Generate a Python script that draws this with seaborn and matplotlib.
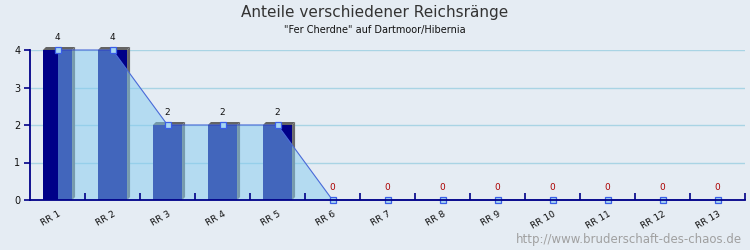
import matplotlib
matplotlib.use("Agg")
import matplotlib.pyplot as plt
import seaborn as sns
import pandas as pd
import numpy as np
from matplotlib.patches import Polygon

categories = ["RR 1", "RR 2", "RR 3", "RR 4", "RR 5", "RR 6", "RR 7",
              "RR 8", "RR 9", "RR 10", "RR 11", "RR 12", "RR 13"]
counts = [4, 4, 2, 2, 2, 0, 0, 0, 0, 0, 0, 0, 0]
y_ticks = [0, 1, 2, 3, 4]

title = "Anteile verschiedener Reichsränge"
subtitle = '"Fer Cherdne" auf Dartmoor/Hibernia'
watermark = "http://www.bruderschaft-des-chaos.de"

bg = "#e5ecf3"
navy = "#000088"
sns.set_theme(style="white")
plt.rcParams["font.family"] = ["DejaVu Sans"]

df = pd.DataFrame({"cat": categories, "val": counts})

fig = plt.figure(figsize=(7.5, 2.5), dpi=100, facecolor=bg)
ax = fig.add_axes([30 / 750, 50 / 250, 715 / 750, 150 / 250])
ax.set_facecolor(bg)

sns.barplot(data=df, x="cat", y="val", color=navy, saturation=1,
            width=0.53, ax=ax, zorder=2, edgecolor="none", linewidth=0)

# 3D depth for bars (derived from bar patches)
dx = 3 / 55.0
dy = 3 / 37.5
for p in list(ax.patches):
    h = p.get_height()
    if h <= 0:
        continue
    x0 = p.get_x()
    x1 = x0 + p.get_width()
    top = Polygon([(x0, h), (x0 + dx, h + dy), (x1 + dx, h + dy), (x1, h)],
                  closed=True, facecolor="#646464", edgecolor="none",
                  zorder=2.1, clip_on=False)
    side = Polygon([(x1, 0), (x1, h), (x1 + dx, h + dy), (x1 + dx, dy)],
                   closed=True, facecolor="#6a6a6a", edgecolor="none",
                   zorder=2.1, clip_on=False)
    ax.add_patch(top)
    ax.add_patch(side)

xs = np.arange(len(categories))
ax.fill_between(xs, counts, 0, color="#84ccf0", alpha=0.5, linewidth=0,
                zorder=3)
sns.lineplot(x=xs, y=counts, ax=ax, color="#4a6ad8", linewidth=0.8,
             marker="s", markersize=5, markerfacecolor="#a6d6f2",
             markeredgecolor="#3a5ee8", markeredgewidth=0.9, zorder=4,
             clip_on=False)

for i, v in enumerate(counts):
    ax.annotate(str(v), (xs[i], v), xytext=(0, 6), textcoords="offset points",
                ha="center", va="bottom", fontsize=6.5,
                color="#111111" if v > 0 else "#aa0000", annotation_clip=False)

ax.set_xlim(-0.5, len(categories) - 0.5)
ax.set_ylim(0, 4)
ax.set_yticks(y_ticks)
ax.set_yticklabels([str(t) for t in y_ticks], fontsize=7, color="#111111")
ax.yaxis.grid(True, color="#a9d4e4", linewidth=1.0)
ax.set_axisbelow(True)
ax.xaxis.set_zorder(5)
ax.set_xlabel("")
ax.set_ylabel("")

ax.set_xticks(xs)
ax.set_xticklabels(categories, rotation=30, ha="right",
                   rotation_mode="anchor", fontsize=6.5, color="#111111")
ax.tick_params(axis="x", which="major", length=0, pad=7)
ax.set_xticks(np.arange(0.5, len(categories) - 0.5 + 1, 1.0), minor=True)
ax.tick_params(axis="x", which="minor", direction="in", length=5,
               width=1.2, color=navy, bottom=True)
ax.tick_params(axis="y", which="major", direction="out", length=4,
               width=1.2, color=navy, left=True, pad=3)

for s in ["top", "right"]:
    ax.spines[s].set_visible(False)
for s in ["left", "bottom"]:
    ax.spines[s].set_color(navy)
    ax.spines[s].set_linewidth(1.3)
    ax.spines[s].set_zorder(5)

fig.text(0.5, 1 - 12 / 250, title, ha="center", va="center",
         fontsize=11, color="#333333")
fig.text(0.5, 1 - 30 / 250, subtitle, ha="center", va="center",
         fontsize=7, color="#111111")
fig.text(742 / 750, 1 - 239 / 250, watermark, ha="right", va="center",
         fontsize=8.5, color="#a0a0a0")

fig.savefig("out.png", dpi=100, facecolor=bg)
